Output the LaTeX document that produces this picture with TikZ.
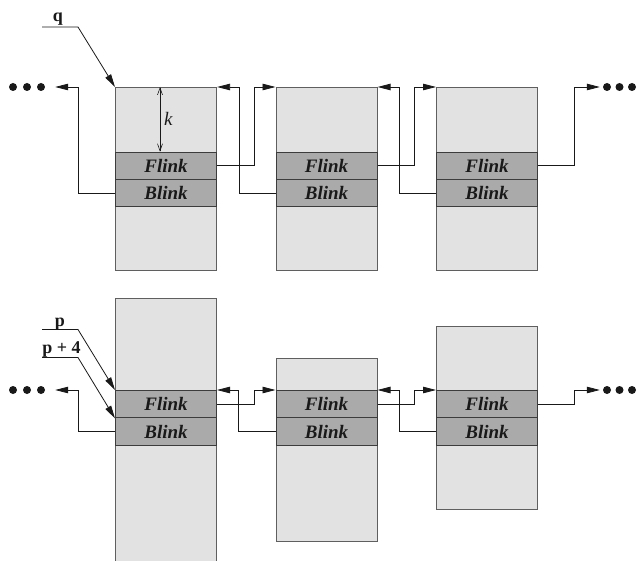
\documentclass[tikz,border=0pt]{standalone}
\usepackage{fontspec}
\setmainfont{Liberation Serif}
\usetikzlibrary{arrows.meta,calc}
\definecolor{cellfill}{RGB}{226,226,226}
\definecolor{bandfill}{RGB}{170,170,170}
\definecolor{edge}{RGB}{95,95,95}
\definecolor{ink}{RGB}{25,25,25}
\tikzset{
  block/.style={rectangle, draw=edge, line width=1.1pt, fill=cellfill,
    minimum width=101pt, inner sep=0pt, anchor=north west},
  band/.style={rectangle, draw=ink!85, line width=1pt, fill=bandfill,
    minimum width=101pt, minimum height=27.4pt, inner sep=0pt, anchor=north west,
    font=\fontsize{19}{19}\selectfont\bfseries\itshape, text=ink},
  link/.style={draw=ink, line width=0.8pt, -{Triangle[length=13pt,width=6.5pt]}},
  dot/.style={circle, fill=ink, minimum size=8pt, inner sep=0pt},
  tag/.style={font=\fontsize{18}{18}\selectfont\bfseries, text=ink, inner sep=0pt, anchor=base},
  dim/.style={draw=ink, line width=0.6pt,
    {Straight Barb[length=7pt,width=5pt]}-{Straight Barb[length=7pt,width=5pt]}},
}
\begin{document}
\begin{tikzpicture}[x=1pt,y=-1pt]
\clip (0,0) rectangle (637,561);

% ---------- upper list: three equal blocks ----------
\node[block, minimum height=183pt] (b1) at (115,87) {};
\node[block, minimum height=183pt] (b2) at (275.5,87) {};
\node[block, minimum height=183pt] (b3) at (436,87) {};
\foreach \i/\x in {1/115,2/275.5,3/436}{
  \node[band] (f\i) at (\x,151.7) {Flink};
  \node[band] (k\i) at (\x,179.1) {Blink};
}

% offset k from the block start to the link fields
\coordinate (kx) at (160,0);
\draw[dim] (kx |- b1.north) -- (kx |- f1.north);
\node[anchor=west, inner sep=0pt, font=\fontsize{19}{19}\selectfont\itshape, text=ink] (klab) at (164,119) {k};

% pointer q
\node[tag] (q) at (58,22) {q};
\coordinate (qa) at (42,27);
\coordinate (qb) at (78,27);
\draw[link] (qa) -- (qb) -- (b1.north west);

% continuation dots, upper list
\node[dot] (ld1) at (13,87) {};
\node[dot] (ld2) at (27,87) {};
\node[dot] (ld3) at (41,87) {};
\node[dot] (rd1) at (607,87) {};
\node[dot] (rd2) at (619.5,87) {};
\node[dot] (rd3) at (632,87) {};

% forward and backward links, upper list
\draw[link, shorten >=10pt] (k1.west) -- ++(-37,0) |- (ld3.east);
\draw[link] (f1.east) -- ++(37,0) |- (b2.north west);
\draw[link] (k2.west) -- ++(-36.5,0) |- (b1.north east);
\draw[link] (f2.east) -- ++(37,0) |- (b3.north west);
\draw[link] (k3.west) -- ++(-36.5,0) |- (b2.north east);
\draw[link, shorten >=3pt] (f3.east) -- ++(36.5,0) |- (rd1.west);

% ---------- lower list: blocks of different sizes ----------
\node[block, minimum height=270pt] (b4) at (115,298) {};
\node[block, minimum height=183.3pt] (b5) at (275.5,357.7) {};
\node[block, minimum height=183.3pt] (b6) at (436,325.7) {};
\foreach \i/\x in {4/115,5/275.5,6/436}{
  \node[band] (f\i) at (\x,390) {Flink};
  \node[band] (k\i) at (\x,417.4) {Blink};
}

% pointers p and p + 4
\node[tag] (p) at (60,326) {p};
\coordinate (pa) at (42,329.5);
\coordinate (pb) at (78,329.5);
\draw[link] (pa) -- (pb) -- (f4.north west);
\node[tag] (p4) at (61.5,353.5) {p + 4};
\coordinate (p4a) at (42,357.5);
\coordinate (p4b) at (78,357.5);
\draw[link] (p4a) -- (p4b) -- (f4.south west);

% continuation dots, lower list
\node[dot] (ld4) at (13,390) {};
\node[dot] (ld5) at (27,390) {};
\node[dot] (ld6) at (41,390) {};
\node[dot] (rd4) at (607,390) {};
\node[dot] (rd5) at (619.5,390) {};
\node[dot] (rd6) at (632,390) {};

% forward and backward links, lower list
\draw[link, shorten >=10pt] (k4.west) -- ++(-37,0) |- (ld6.east);
\draw[link] (f4.east) -- ++(37,0) |- (f5.north west);
\draw[link] (k5.west) -- ++(-37,0) |- (f4.north east);
\draw[link] (f5.east) -- ++(37,0) |- (f6.north west);
\draw[link] (k6.west) -- ++(-37,0) |- (f5.north east);
\draw[link, shorten >=3pt] (f6.east) -- ++(36.5,0) |- (rd4.west);
\end{tikzpicture}
\end{document}
